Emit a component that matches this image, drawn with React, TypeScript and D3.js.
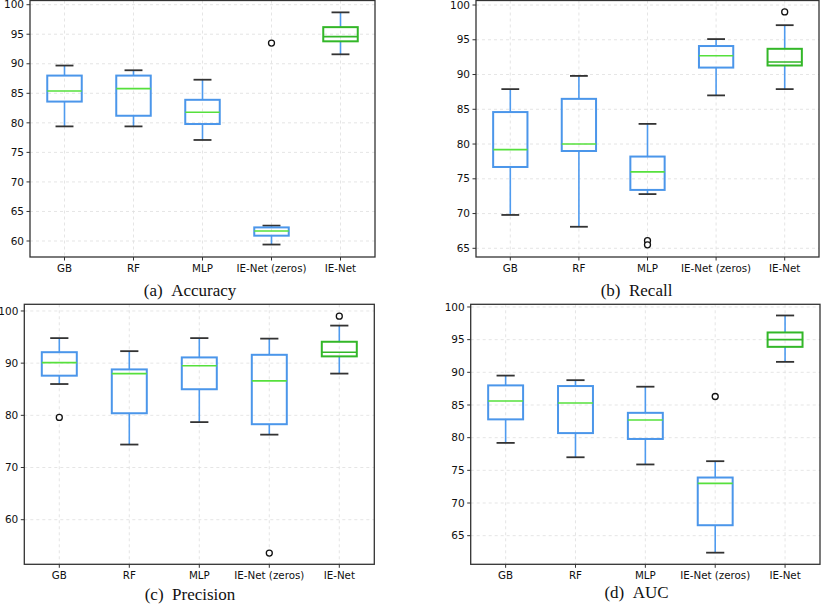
import * as d3 from 'd3';

const categories = ['GB', 'RF', 'MLP', 'IE-Net (zeros)', 'IE-Net'];

// each row: [lower whisker, Q1, median, Q3, upper whisker]
const accuracy = [
  [79.4, 83.6, 85.4, 88.0, 89.7],
  [79.4, 81.2, 85.8, 88.0, 88.9],
  [77.1, 79.8, 81.8, 83.9, 87.3],
  [59.4, 60.9, 61.7, 62.3, 62.6],
  [91.6, 93.8, 94.6, 96.2, 98.7],
];
const accuracyOutliers = [[], [], [], [93.5], []];

const recall = [
  [69.8, 76.7, 79.2, 84.6, 87.9],
  [68.1, 79.0, 80.0, 86.5, 89.8],
  [72.8, 73.4, 76.0, 78.2, 82.9],
  [87.0, 91.0, 92.7, 94.1, 95.1],
  [87.9, 91.3, 91.8, 93.7, 97.1],
];
const recallOutliers = [[], [], [66.1, 65.5], [], [99.0]];

const precision = [
  [86.0, 87.6, 90.1, 92.1, 94.8],
  [74.4, 80.4, 88.0, 88.8, 92.3],
  [78.7, 85.0, 89.5, 91.1, 94.8],
  [76.3, 78.3, 86.6, 91.6, 94.7],
  [88.0, 91.3, 92.1, 94.1, 97.2],
];
const precisionOutliers = [[79.6], [], [], [53.6], [99.0]];

const auc = [
  [79.2, 82.8, 85.6, 88.0, 89.5],
  [77.0, 80.7, 85.3, 87.9, 88.8],
  [75.9, 79.8, 82.7, 83.8, 87.8],
  [62.4, 66.6, 73.0, 73.9, 76.4],
  [91.6, 93.9, 95.0, 96.1, 98.7],
];
const aucOutliers = [[], [], [], [86.3], []];

const yTicksA = [60, 65, 70, 75, 80, 85, 90, 95, 100];
const yTicksB = [65, 70, 75, 80, 85, 90, 95, 100];
const yTicksC = [60, 70, 80, 90, 100];
const yTicksD = [65, 70, 75, 80, 85, 90, 95, 100];

const BLUE = '#4b96ea';
const WHISKER = '#4f9bef';
const MEDIAN = '#56e03c';
const GREEN = '#33b728';
const CAP = '#333';

const panels = [
  { label: '(a)', name: 'Accuracy', stats: accuracy, outliers: accuracyOutliers, ticks: yTicksA,
    x0: 30, x1: 375, y0: 0.5, y1: 257, domain: [57.29, 100.71], cx: 190, cy: 296 },
  { label: '(b)', name: 'Recall', stats: recall, outliers: recallOutliers, ticks: yTicksB,
    x0: 476, x1: 819, y0: 0.5, y1: 257, domain: [63.75, 100.65], cx: 636.5, cy: 296 },
  { label: '(c)', name: 'Precision', stats: precision, outliers: precisionOutliers, ticks: yTicksC,
    x0: 24.3, x1: 374.3, y0: 304.3, y1: 564.3, domain: [51.45, 101.28], cx: 190, cy: 600 },
  { label: '(d)', name: 'AUC', stats: auc, outliers: aucOutliers, ticks: yTicksD,
    x0: 470.7, x1: 820, y0: 304.3, y1: 564.3, domain: [60.62, 100.41], cx: 636.5, cy: 598 },
];

const Panel = ({ p }: { p: any }) => {
  const x = d3.scalePoint<string>().domain(categories).range([p.x0, p.x1]).padding(0.5);
  const y = d3.scaleLinear().domain(p.domain).range([p.y1, p.y0]);
  const step = x.step();
  const boxW = step * 0.5;
  const capW = step * 0.26;
  const font = 'DejaVu Sans, sans-serif';

  return (
    <g>
      {/* grid */}
      {p.ticks.map((t: number) => (
        <line key={'gy' + t} x1={p.x0} x2={p.x1} y1={y(t)} y2={y(t)}
          stroke="#dedede" strokeWidth={0.8} strokeDasharray="3,3" />
      ))}
      {categories.map(c => (
        <line key={'gx' + c} x1={x(c)} x2={x(c)} y1={p.y0} y2={p.y1}
          stroke="#dedede" strokeWidth={0.8} strokeDasharray="3,3" />
      ))}

      {/* boxes */}
      {categories.map((c, i) => {
        const [lo, q1, med, q3, hi] = p.stats[i];
        const cx = x(c) as number;
        const last = i === categories.length - 1;
        const boxColor = last ? GREEN : BLUE;
        const medColor = last ? GREEN : MEDIAN;
        return (
          <g key={c}>
            <line x1={cx} x2={cx} y1={y(hi)} y2={y(q3)} stroke={WHISKER} strokeWidth={1.6} />
            <line x1={cx} x2={cx} y1={y(q1)} y2={y(lo)} stroke={WHISKER} strokeWidth={1.6} />
            <line x1={cx - capW / 2} x2={cx + capW / 2} y1={y(hi)} y2={y(hi)} stroke={CAP} strokeWidth={1.8} />
            <line x1={cx - capW / 2} x2={cx + capW / 2} y1={y(lo)} y2={y(lo)} stroke={CAP} strokeWidth={1.8} />
            <rect x={cx - boxW / 2} y={y(q3)} width={boxW} height={y(q1) - y(q3)}
              fill="none" stroke={boxColor} strokeWidth={2} />
            <line x1={cx - boxW / 2} x2={cx + boxW / 2} y1={y(med)} y2={y(med)} stroke={medColor} strokeWidth={1.6} />
            {p.outliers[i].map((o: number, k: number) => (
              <circle key={k} cx={cx} cy={y(o)} r={3} fill="white" stroke="#111" strokeWidth={1.3} />
            ))}
          </g>
        );
      })}

      {/* frame */}
      <rect x={p.x0} y={p.y0} width={p.x1 - p.x0} height={p.y1 - p.y0} fill="none" stroke="#333" strokeWidth={1.3} />

      {/* y axis */}
      {p.ticks.map((t: number) => (
        <g key={'ty' + t}>
          <line x1={p.x0 - 3.5} x2={p.x0} y1={y(t)} y2={y(t)} stroke="#333" strokeWidth={1} />
          <text x={p.x0 - 6} y={y(t)} dy="0.35em" textAnchor="end" fontFamily={font} fontSize={10.5} fill="#111">{t}</text>
        </g>
      ))}

      {/* x axis */}
      {categories.map(c => (
        <g key={'tx' + c}>
          <line x1={x(c)} x2={x(c)} y1={p.y1} y2={p.y1 + 3.5} stroke="#333" strokeWidth={1} />
          <text x={x(c)} y={p.y1 + 15} textAnchor="middle" fontFamily={font} fontSize={10.3} fill="#111">{c}</text>
        </g>
      ))}

      {/* caption */}
      <text x={p.cx} y={p.cy} textAnchor="middle" fontFamily="Liberation Serif, Times New Roman, serif" fontSize={17} fill="#111">
        {p.label}{'\u2002'}{p.name}
      </text>
    </g>
  );
};

export default function App() {
  return (
    <svg width={821} height={608} style={{ position: 'absolute', left: 0, top: 0, background: 'white' }}>
      <rect width={821} height={608} fill="white" />
      {panels.map(p => <Panel key={p.name} p={p} />)}
    </svg>
  );
}
